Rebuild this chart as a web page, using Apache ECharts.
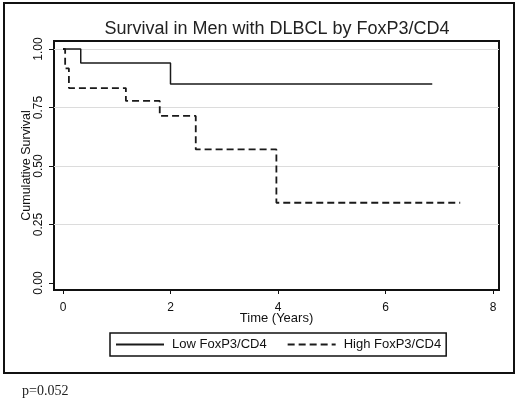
<!DOCTYPE html>
<html><head><meta charset="utf-8">
<script src="https://cdn.jsdelivr.net/npm/echarts@6/dist/echarts.min.js"></script>
<style>html,body{margin:0;padding:0;background:#fff}#c{width:520px;height:399px}</style>
</head><body><div id="c"></div>
<script>
var lowTimes = [0, 0.33, 2.0, 6.87];
var lowSurv  = [1.0, 0.94, 0.85, 0.85];
var highTimes = [0, 0.04, 0.11, 1.17, 1.80, 2.47, 3.97, 7.39];
var highSurv  = [1.0, 0.917, 0.833, 0.778, 0.714, 0.571, 0.343, 0.343];
var xTicks = [0, 2, 4, 6, 8];
var yTicks = [0, 0.25, 0.5, 0.75, 1.0];
var gridValues = [0.25, 0.5, 0.75, 1.0];
var seriesNames = ['Low FoxP3/CD4', 'High FoxP3/CD4'];
var titleText = 'Survival in Men with DLBCL by FoxP3/CD4';
var pText = 'p=0.052';

function pairs(t, v){ return t.map(function(x,i){ return [x, v[i]]; }); }
var sans = 'Liberation Sans, Arial, sans-serif';
var chart = echarts.init(document.getElementById('c'), null, {renderer:'canvas'});
chart.setOption({
  animation: false,
  backgroundColor: '#fff',
  title: [{
    text: titleText, left: 272, top: 15, textAlign: 'center',
    textStyle: {fontFamily: sans, fontSize: 18, fontWeight: 'normal', color: '#222'}
  }],
  grid: {left: 54, top: 41, right: 21, bottom: 109, show: true, borderColor: '#111', borderWidth: 2, containLabel: false},
  xAxis: {
    type: 'value', min: -0.1674, max: 8.1116,
    name: 'Time (Years)', nameLocation: 'middle', nameGap: 22, nameMoveOverlap: false,
    nameTextStyle: {fontFamily: sans, fontSize: 13, color: '#111'},
    axisLine: {show: true, onZero: false, lineStyle: {color: '#111', width: 2}},
    axisTick: {show: true, length: 4, customValues: xTicks, lineStyle: {color: '#111', width: 1}},
    axisLabel: {customValues: xTicks, margin: 12, fontFamily: sans, fontSize: 12, color: '#111', formatter: function(v){return String(v);}},
    splitLine: {show: false}
  },
  yAxis: {
    type: 'value', min: -0.0299, max: 1.0342,
    name: 'Cumulative Survival', nameLocation: 'middle', nameGap: 21, nameMoveOverlap: false,
    nameTextStyle: {fontFamily: sans, fontSize: 12.5, color: '#111'},
    axisLine: {show: true, onZero: false, lineStyle: {color: '#111', width: 2}},
    axisTick: {show: true, length: 5, customValues: yTicks, lineStyle: {color: '#111', width: 1}},
    axisLabel: {customValues: yTicks, rotate: 90, margin: 9, fontFamily: sans, fontSize: 12, color: '#111', formatter: function(v){return v.toFixed(2);}},
    splitLine: {show: false}
  },
  legend: {
    left: 110, top: 333, orient: 'horizontal',
    borderColor: '#111', borderWidth: 1.5, padding: [5, 5],
    itemWidth: 48, itemHeight: 14, itemGap: 20,
    itemStyle: {color: 'transparent', borderColor: 'transparent', borderWidth: 0},
    textStyle: {fontFamily: sans, fontSize: 13, color: '#111', padding: [0, 0, 0, 3]},
    data: seriesNames
  },
  series: [{
    name: seriesNames[0], type: 'line', step: 'end', symbol: 'none',
    data: pairs(lowTimes, lowSurv),
    lineStyle: {color: '#1a1a1a', width: 1.5, type: 'solid'},
    itemStyle: {color: '#1a1a1a'},
    markLine: {
      silent: true, symbol: 'none', label: {show: false},
      lineStyle: {color: '#dcdcdc', width: 1, type: 'solid'},
      data: gridValues.map(function(v){ return {yAxis: v}; }),
      z: 1
    }
  }, {
    name: seriesNames[1], type: 'line', step: 'end', symbol: 'none',
    data: pairs(highTimes, highSurv),
    lineStyle: {color: '#1a1a1a', width: 1.8, type: [7, 4]},
    itemStyle: {color: '#1a1a1a'}
  }],
  graphic: [{
    type: 'rect', silent: true,
    shape: {x: 4, y: 3, width: 510, height: 370},
    style: {fill: 'none', stroke: '#111', lineWidth: 2}
  }, {
    type: 'text', silent: true, x: 22, y: 384,
    style: {text: pText, font: '14px "Liberation Serif", "Times New Roman", serif', fill: '#222', verticalAlign: 'top'}
  }]
});
</script></body></html>
